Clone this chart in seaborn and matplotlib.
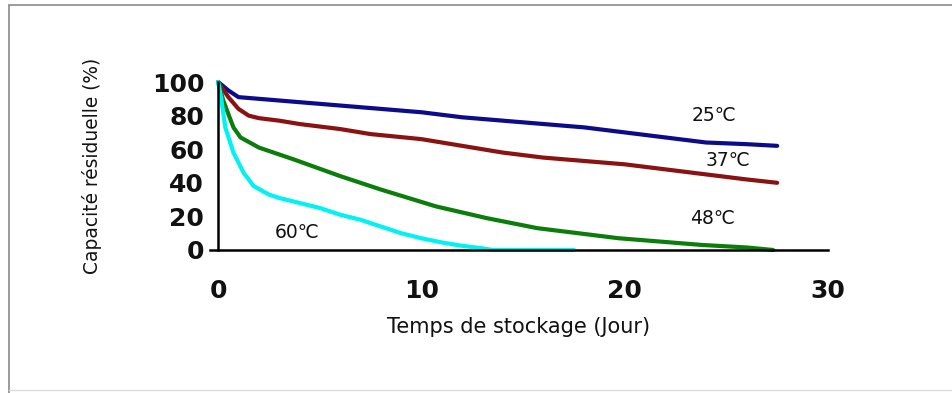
import matplotlib
matplotlib.use("Agg")
import matplotlib.pyplot as plt
from matplotlib.lines import Line2D
import seaborn as sns
import pandas as pd

# ---- data ----
days_25 = [0, 0.5, 1, 2, 4, 6, 8, 10, 12, 14, 16, 18, 20, 22, 24, 26, 27.5]
cap_25 = [100, 95, 91, 90, 88, 86, 84, 82, 79, 77, 75, 73, 70, 67, 64, 63, 62]

days_37 = [0, 0.5, 1, 1.5, 2, 3, 4, 5, 6, 7.5, 10, 12, 14, 16, 18, 20, 22, 24, 26, 27.5]
cap_37 = [100, 91, 84, 80, 78.5, 77, 75, 73.5, 72, 69, 66, 62, 58, 55, 53, 51, 48, 45, 42, 40]

days_48 = [0, 0.25, 0.75, 1.1, 2, 3.7, 6, 8, 10.7, 13.2, 15.7, 19.7, 23.8, 26, 27.3]
cap_48 = [100, 89, 73, 67, 61, 54, 44, 36, 26, 19, 13, 7, 3, 1.5, 0]

days_60 = [0, 0.15, 0.35, 0.75, 1.25, 1.75, 2.5, 3, 4, 5, 6, 7, 8, 9, 10, 11, 12, 13, 13.5, 17.5]
cap_60 = [100, 90, 73, 58, 46, 38, 33, 31, 28, 25, 21, 18, 14, 10, 7, 4.5, 2.5, 1, 0, 0]

series = ["25℃", "37℃", "48℃", "60℃"]
colors = ["#0c0c8a", "#8a1212", "#0b7d0b", "#00f2f2"]
label_pos = {"25℃": (24.4, 80), "37℃": (25.1, 53.5), "48℃": (24.3, 19), "60℃": (3.9, 10.7)}

x_ticks = [0, 10, 20, 30]
y_ticks = [0, 20, 40, 60, 80, 100]

frames = []
for name, d, c in zip(series, [days_25, days_37, days_48, days_60], [cap_25, cap_37, cap_48, cap_60]):
    frames.append(pd.DataFrame({"jour": d, "cap": c, "serie": name}))
df = pd.concat(frames, ignore_index=True)

sns.set_theme(style="white")
plt.rcParams['font.family'] = ['DejaVu Sans']

fig = plt.figure(figsize=(9.53, 3.93), dpi=100)
ax = fig.add_axes([0.2204, 0.3639, 0.6484, 0.4274])

sns.lineplot(data=df, x="jour", y="cap", hue="serie", hue_order=series,
             palette=dict(zip(series, colors)), estimator=None, sort=False,
             linewidth=3, legend=False, ax=ax, clip_on=False)

ax.set_xlim(-0.4, 30)
ax.set_ylim(0, 100)
for s in ["top", "right"]:
    ax.spines[s].set_visible(False)
ax.spines["left"].set_position(("data", 0))
for s in ["left", "bottom"]:
    ax.spines[s].set_color("black")
    ax.spines[s].set_linewidth(1.8)

ax.set_xticks(x_ticks)
ax.set_yticks(y_ticks)
ax.tick_params(axis="both", direction="inout", length=10, width=1.8, color="black",
               labelsize=18, labelcolor="#111111")
ax.tick_params(axis="x", pad=16)
ax.tick_params(axis="y", pad=5)
for lab in ax.get_xticklabels() + ax.get_yticklabels():
    lab.set_fontweight("bold")

ax.set_xlabel("Temps de stockage (Jour)", fontsize=15, color="#111111", labelpad=10)
ax.set_ylabel("Capacité résiduelle (%)", fontsize=13.4, color="#111111", labelpad=36)

for name in series:
    x, y = label_pos[name]
    ax.text(x, y, name, fontsize=13.5, color="#111111", ha="center", va="center")

# figure frame (gray border on left/top)
fig.add_artist(Line2D([0.0095, 0.0095], [0.0, 0.987], transform=fig.transFigure,
                      color="#8a8a8a", linewidth=1.2))
fig.add_artist(Line2D([0.0095, 1.0], [0.987, 0.987], transform=fig.transFigure,
                      color="#8a8a8a", linewidth=1.2))
fig.add_artist(Line2D([0.0095, 1.0], [0.008, 0.008], transform=fig.transFigure,
                      color="#dddddd", linewidth=1.0))

fig.savefig("out.png", dpi=100, facecolor="white")
